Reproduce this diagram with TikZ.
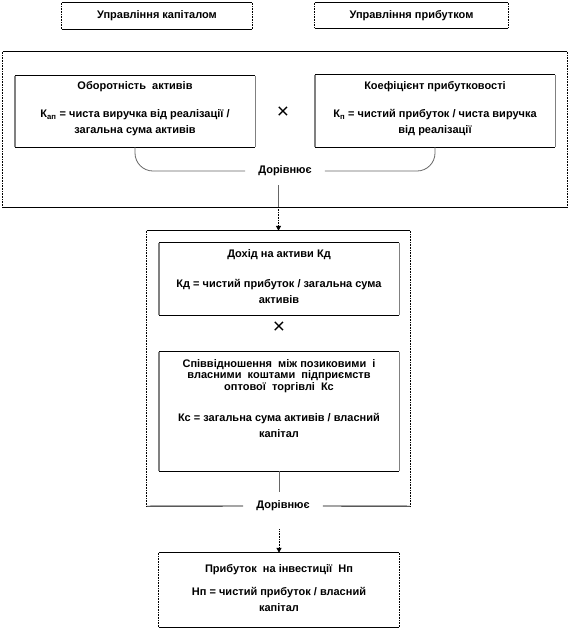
\documentclass[tikz,border=0pt]{standalone}
\usepackage{fontspec}
\setmainfont{Liberation Sans}
\usetikzlibrary{arrows.meta}
\tikzset{
  frame/.style={draw=none, inner sep=0pt, minimum width=#1},
  txt/.style={font=\bfseries\fontsize{11}{11.8}\selectfont, align=center, inner sep=0pt},
  ftxt/.style={font=\bfseries\fontsize{11}{16}\selectfont, align=center, inner sep=0pt},
  eqtxt/.style={font=\bfseries\fontsize{11}{12}\selectfont, inner xsep=13pt, inner ysep=9pt},
  crosstxt/.style={font=\fontsize{21}{21}\selectfont, inner sep=0pt},
  solidedge/.style={line width=0.9pt, black},
  dotside/.style={line width=1.1pt, black, dash pattern=on 0.8pt off 0.8pt},
  grayside/.style={line width=1.4pt, gray},
  conn/.style={line width=0.8pt, black!60, rounded corners=18pt},
  dotarrow/.style={line width=1pt, black, dash pattern=on 0.8pt off 0.8pt, -{Triangle[width=5pt,length=5pt]}}
}
\newcommand\myedges[2]{%
  \draw[solidedge] (#1.north west) -- (#1.north east) (#1.south west) -- (#1.south east);
  \draw[#2] (#1.north west) -- (#1.south west) (#1.north east) -- (#1.south east);}
\begin{document}
\begin{tikzpicture}[x=1pt,y=-1pt]
\useasboundingbox (0,0) rectangle (570,630);

% top boxes
\node[frame=190, minimum height=26, txt] (tl) at (157,16) {Управління капіталом};
\node[frame=193, minimum height=25, txt] (tr) at (411.5,15.5) {Управління прибутком};
\myedges{tl}{dotside}
\myedges{tr}{dotside}

% big outer box
\node[frame=564, minimum height=155] (big) at (285,129.5) {};
\myedges{big}{dotside}

% inner left / right
\node[frame=240, minimum height=71] (inL) at (135,111.5) {};
\myedges{inL}{grayside}
\node[txt] (inLt) at (135,87) {Оборотність~ активів};
\node[ftxt] (inLf) at (135,123) {К\textsubscript{ап} = чиста виручка від реалізації /\\загальна сума активів};

\node[crosstxt] (x1) at (283,113) {×};

\node[frame=240, minimum height=72] (inR) at (435,111) {};
\myedges{inR}{grayside}
\node[txt] (inRt) at (435,87) {Коефіцієнт прибутковості};
\node[ftxt] (inRf) at (435,123) {К\textsubscript{п} = чистий прибуток / чиста виручка\\від реалізації};

\node[eqtxt] (eq1) at (285,171) {Дорівнює};
\draw[conn] (inL.south) |- (eq1.west);
\draw[conn] (inR.south) |- (eq1.east);

% middle box
\node[frame=263, minimum height=275] (mid) at (278.5,368.5) {};
\draw[solidedge] (mid.north west) -- (mid.north east);
\draw[dotside] (mid.north west) -- (mid.south west) (mid.north east) -- (mid.south east);

\coordinate (j1) at (mid.north |- big.south);
\draw[line width=0.8pt, black!60] (eq1.south -| mid.north) -- (j1);
\draw[dotarrow] (j1) -- (mid.north);

\node[frame=240, minimum height=72] (m1) at (279,279) {};
\myedges{m1}{grayside}
\node[txt] (m1t) at (279,255) {Дохід на активи Кд};
\node[ftxt] (m1f) at (279,291) {Кд = чистий прибуток / загальна сума\\активів};

\node[crosstxt] (x2) at (279,328) {×};

\node[frame=240, minimum height=119] (m2) at (279,411.5) {};
\myedges{m2}{grayside}
\node[txt] (m2t) at (279,376) {Співвідношення~ між позиковими~ і\\власними~ коштами~ підприємств\\оптової~ торгівлі~ Кс};
\node[ftxt] (m2f) at (279,425) {Кс = загальна сума активів / власний\\капітал};

\node[eqtxt] (eq2) at (283,506) {Дорівнює};
\draw[line width=0.8pt, black!60] (m2.south) -- (m2.south |- eq2.north);
\draw[solidedge] (mid.south west) -- (eq2.west);
\draw[solidedge] (eq2.east) -- (mid.south east);

% bottom box
\node[frame=240, minimum height=74] (bot) at (279,590) {};
\draw[solidedge] (bot.north west) -- (bot.north east) (bot.south west) -- (bot.south east);
\draw[dotside] (bot.north west) -- (bot.south west) (bot.north east) -- (bot.south east);
\node[txt] (bott) at (279,570) {Прибуток~ на інвестиції~ Нп};
\node[ftxt] (botf) at (279,599) {Нп = чистий прибуток / власний\\капітал};

\draw[dotarrow, shorten <=9pt] (eq2.south -| bot.north) -- (bot.north);
\end{tikzpicture}
\end{document}
